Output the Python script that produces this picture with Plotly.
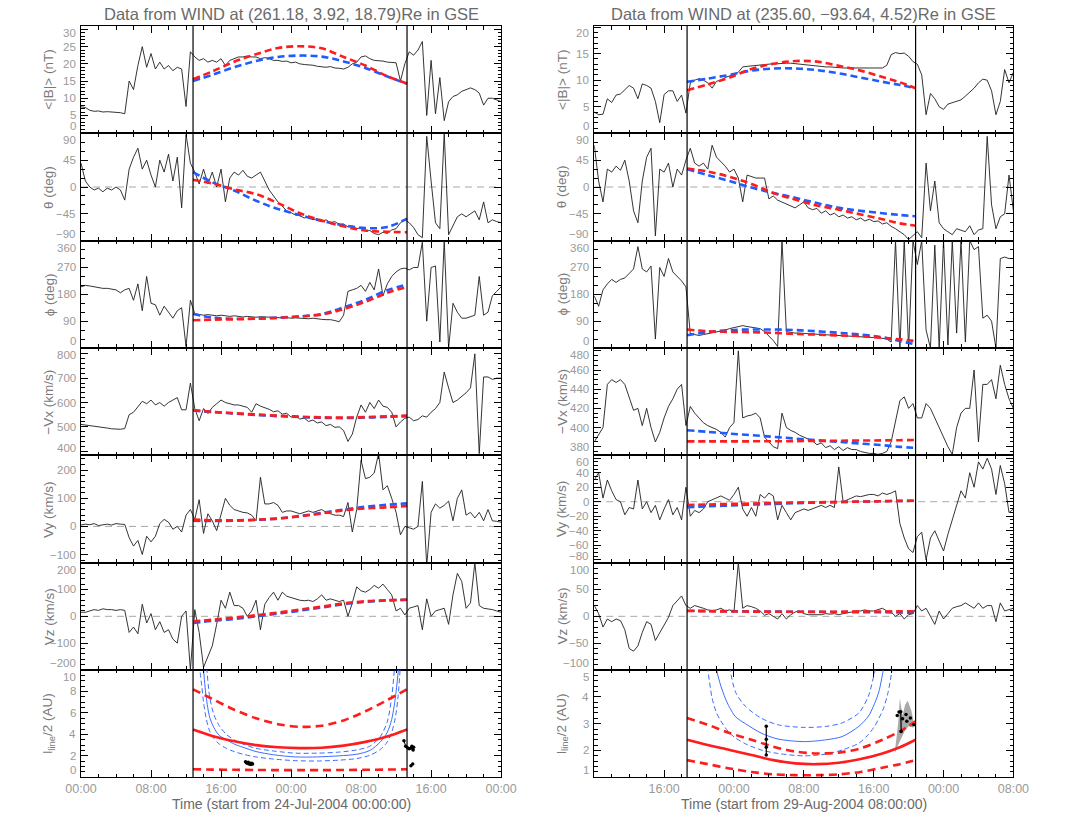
import plotly.graph_objects as go

W, H = 1075, 818
FONT = "Liberation Sans"

# hours since the start of each window, 30-min cadence
t_obs = [0.5 * i for i in range(97)]

# ---------------- WIND, window starting 24-Jul-2004 00:00 ----------------
L_B = [7.5, 7.3, 6.5, 6.2, 6.3, 6.0, 6.1, 6.0, 6.1, 5.8,
       5.5, 15.0, 12.5, 19.5, 25.0, 19.0, 23.0, 18.5, 20.5, 18.5,
       19.5, 18.0, 19.0, 18.5, 7.6, 23.5, 22.0, 21.0, 21.5, 20.5,
       21.0, 20.5, 21.5, 19.5, 21.0, 21.5, 22.0, 22.0, 22.3, 22.0,
       22.0, 21.5, 21.8, 21.5, 21.0, 21.0, 20.7, 20.8, 20.3, 20.5,
       20.0, 19.8, 19.8, 19.6, 19.3, 19.2, 19.0, 19.2, 18.8, 18.7,
       18.5, 19.0, 20.0, 20.5, 22.0, 22.3, 21.5, 21.0, 21.0, 20.8,
       20.5, 20.5, 20.3, 15.0, 20.0, 23.5, 22.5, 24.0, 26.5, 5.0,
       21.0, 5.5, 16.0, 3.5, 9.0, 10.5, 11.0, 12.0, 12.5, 13.0,
       12.5, 11.5, 8.0, 10.0, 10.0, 9.5, 9.0]
L_TH = [40, 10, 0, -5, -2, -8, -2, -5, 0, -5,
        -22, 30, 50, 65, 30, 45, 20, 0, 45, 25,
        55, 10, 50, -35, 88, 40, 25, 5, 30, 5,
        25, 0, 30, -25, 15, 25, 20, 28, 18, 15,
        20, 25, 10, -5, -15, -25, -32, -40, -43, -47,
        -48, -52, -50, -55, -53, -58, -55, -60, -58, -63,
        -62, -67, -65, -70, -68, -74, -73, -78, -80, -76,
        -78, -72, -70, -60, -55, -60, -68, -80, -85, 85,
        10, -60, -70, 90, -80, -65, -50, -45, -50, -45,
        -40, -55, -25, -60, -55, -58, -60]
L_PH = [205, 210, 208, 205, 203, 200, 200, 197, 195, 185,
        195, 200, 160, 215, 125, 240, 150, 145, 110, 140,
        120, 100, 125, 135, 5, 160, 115, 112, 110, 112,
        110, 108, 110, 108, 106, 108, 105, 104, 106, 104,
        103, 105, 104, 103, 102, 103, 101, 102, 100, 101,
        100, 99, 98, 100, 97, 96, 95, 95, 92, 88,
        110, 190, 195, 200, 210, 190, 220, 195, 265, 175,
        215, 240, 255, 265, 268, 262, 270, 270, 355, 90,
        270, 275, 20, 360, 0, 150, 120, 100, 100, 105,
        110, 240, 110, 120, 175, 190, 205]
L_VX = [510, 508, 505, 503, 500, 498, 495, 492, 490, 490,
        493, 550, 560, 585, 605, 595, 610, 590, 600, 585,
        600, 610, 620, 570, 570, 680, 575, 525, 575, 555,
        580, 595, 610, 600, 595, 590, 590, 585, 580, 560,
        595, 585, 580, 572, 562, 566, 552, 556, 540, 546,
        532, 536, 522, 528, 516, 520, 505, 510, 498, 500,
        485, 440, 470, 540, 590, 560, 600, 575, 610, 585,
        580, 560, 500, 520, 535, 540, 525, 530, 545, 540,
        560, 575, 600, 725, 660, 600, 610, 625, 640, 660,
        800, 390, 705, 705, 695, 700, 700]
L_VY = [5, 8, 6, 10, 3, 5, 8, 5, 10, 8,
        7, -40, -70, -50, -100, -35, -55, -35, 10, 25,
        15, -10, 0, -20, 40, 60, 25, 95, -25, 45,
        20, -15, 45, 100, 75, 60, 55, 50, 48, 40,
        20, 175, 80, 80, 85, 75, 50, 55, 55, 50,
        45, 50, 55, 50, 55, 60, 50, 45, 40, 40,
        35, 85, -20, 60, 235, 170, 175, 190, 260, 130,
        145, 100, 50, -30, 0, -5, -10, 0, 160, -140,
        50, 80, 65, 75, 90, 20, 100, 130, 40, 50,
        30, 50, 20, 60, 20, 18, 15]
L_VZ = [15, 15, 20, 25, 22, 28, 25, 25, 22, 25,
        22, -60, -40, -65, 45, -25, 10, -50, -20, -60,
        -50, -85, -100, 0, 20, -200, 25, -60, -190, -150,
        -110, -30, 60, 30, 90, 40, 40, 30, 0, 20,
        60, -50, 45, 70, 90, 60, 90, 75, 70, 65,
        60, 58, 60, 55, 65, 80, 60, 65, 60, 55,
        60, 0, 50, 110, 95, 90, 100, 115, 105, 120,
        100, 80, 20, 30, 5, 30, 35, 40, -50, 65,
        0, 20, 25, 30, -30, 80, 160, 130, 30, 50,
        200, 40, 30, 28, 25, 20, 15]

# model fits inside the magnetic cloud (red / blue)
tL_fit = [12.8, 15, 17.5, 20, 22.5, 25, 27.5, 30, 32.5, 35, 37.25]
L_B_red = [15.5, 17.8, 20.6, 22.8, 24.6, 25.1, 24.5, 22.0, 19.5, 16.4, 14.3]
L_B_blue = [15.0, 16.8, 19.0, 20.8, 22.0, 22.4, 22.1, 20.7, 18.8, 16.3, 14.2]
L_TH_red = [12, 6, -4, -12, -27, -44, -56, -66, -73, -75, -76]
L_TH_blue = [25, 8, -6, -23, -37, -47, -57, -64, -69, -67, -53]
L_PH_red = [93, 95, 96, 98, 101, 106, 112, 130, 155, 185, 205]
L_PH_blue = [114, 102, 98, 99, 102, 106, 114, 136, 162, 194, 213]
L_VX_red = [569, 562, 556, 551, 546, 542, 539, 538, 540, 543, 546]
L_VX_blue = [567, 561, 555, 549, 544, 540, 537, 536, 538, 541, 544]
L_VY_red = [24, 22, 22, 24, 28, 36, 46, 57, 64, 68, 73]
L_VY_blue = [20, 19, 20, 23, 28, 37, 48, 60, 70, 77, 82]
L_VZ_red = [-19, -13, -5, 4, 14, 25, 36, 48, 56, 60, 62]
L_VZ_blue = [-25, -17, -10, 0, 10, 21, 33, 45, 54, 59, 62]
L_L_red = [4.45, 3.85, 3.35, 3.0, 2.8, 2.72, 2.75, 2.95, 3.3, 3.8, 4.45]
L_L_red_hi = [8.2, 7.3, 6.3, 5.5, 4.95, 4.7, 4.8, 5.3, 6.15, 7.2, 8.2]
L_L_red_lo = [0.75, 0.72, 0.7, 0.68, 0.67, 0.67, 0.67, 0.68, 0.7, 0.72, 0.75]

tL_blue = [13.5, 13.8, 14.0, 14.3, 14.7, 15.2, 15.8, 16.6, 17.5, 18.5, 20, 22,
           24.5, 27, 29.5, 31.5, 33, 34.2, 35, 35.5, 35.9, 36.2, 36.5, 36.8]
L_L_blue = [20, 12, 10, 7.5, 5.6, 4.6, 3.9, 3.5, 3.1, 2.8, 2.4, 2.1,
            1.9, 1.9, 2.0, 2.15, 2.5, 3.3, 4.2, 5.4, 7.3, 9.5, 12, 20]
L_L_blue_hi = [40, 20, 16, 11, 7.5, 5.8, 4.8, 4.0, 3.5, 3.1, 2.7, 2.45,
               2.25, 2.25, 2.35, 2.55, 2.9, 3.8, 5.2, 7.5, 11, 15, 20, 40]
L_L_blue_lo = [10.5, 8.5, 7.0, 5.5, 4.3, 3.6, 3.1, 2.7, 2.4, 2.15, 1.9, 1.7,
               1.55, 1.52, 1.6, 1.75, 2.05, 2.6, 3.3, 4.2, 5.5, 7.3, 10.5, 14]

L_pts_t = [18.8, 18.9, 19.0, 19.1, 19.2, 19.3, 19.4, 19.5, 19.6]
L_pts_l = [1.45, 1.35, 1.3, 1.4, 1.25, 1.3, 1.2, 1.3, 1.25]
L_pts2_t = [36.9, 37.1, 37.3, 37.5, 37.7, 37.8, 37.95, 38.0]
L_pts2_l = [3.4, 2.9, 2.75, 2.65, 2.7, 2.9, 2.55, 2.8]
L_pts3_t = [37.7, 37.9]
L_pts3_l = [1.08, 1.23]

EVENT_L = [12.8, 37.25]

# ---------------- WIND, window starting 29-Aug-2004 08:00 ----------------
R_B = [4.0, 3.5, 3.6, 6.5, 5.8, 7.2, 7.4, 8.3, 9.0, 8.5,
       6.5, 9.3, 9.0, 8.5, 6.0, 2.0, 7.3, 8.0, 8.0, 6.0,
       7.2, 3.8, 9.5, 10.0, 10.3, 10.0, 9.5, 8.5, 9.8, 10.0,
       10.5, 10.8, 11.0, 11.5, 12.5, 12.6, 12.7, 12.8, 12.9, 13.0,
       13.0, 13.1, 13.1, 13.2, 13.2, 13.2, 13.1, 13.0, 13.0, 12.9,
       12.8, 12.7, 12.6, 12.5, 12.5, 12.4, 12.4, 12.3, 12.3, 12.3,
       12.3, 12.2, 12.2, 12.2, 12.3, 12.3, 12.3, 12.8, 14.8, 15.2,
       15.0, 15.1, 14.5, 13.5, 13.0, 11.0, 3.5, 7.5, 6.5, 5.0,
       4.5, 5.5, 5.8, 6.0, 6.3, 7.0, 7.8, 8.5, 9.5, 10.2,
       10.0, 8.0, 3.5, 6.0, 12.0, 9.5, 11.5]
R_TH = [70, 10, -25, 30, 25, 35, 28, 45, 10, -40,
        -60, 10, 50, 65, -82, 30, 25, 40, 0, 30,
        20, 45, 65, 40, 35, 40, 30, 70, 50, 42,
        35, 25, 30, 15, -25, 20, 18, 15, 15, 15,
        -20, -15, -22, -25, -28, -32, -35, -30, -25, -35,
        -38, -36, -44, -40, -47, -44, -50, -47, -52, -50,
        -55, -52, -57, -54, -58, -57, -62, -60, -66, -70,
        -75, -80, -88, -82, -75, -85, 40, -40, 10, -60,
        -70, -75, -80, -70, -72, -75, -65, -80, -72, -70,
        85, -30, -70, -50, -45, 20, -40]
R_PH = [175, 140, 195, 215, 230, 220, 230, 235, 250, 265,
        340, 265, 255, 275, 30, 270, 240, 300, 255, 240,
        225, 205, 48, 45, 42, 45, 48, 50, 52, 55,
        60, 65, 68, 72, 75, 72, 70, 68, 65, 55,
        40, 25, 5, 360, 55, 52, 50, 50, 48, 48,
        47, 46, 45, 45, 43, 42, 42, 40, 40, 39,
        38, 38, 37, 36, 35, 35, 33, 30, 20, 360,
        0, 360, 0, 360, 280, 360, 60, 0, 345, 0,
        360, 10, 360, 50, 360, 20, 360, 330, 340, 100,
        110, 90, 0, 300, 305, 300, 300]
R_VX = [385, 393, 400, 445, 450, 447, 450, 445, 432, 418,
        420, 402, 420, 400, 385, 395, 410, 422, 430, 440,
        445, 402, 422, 415, 410, 405, 402, 400, 398, 395,
        390, 400, 405, 480, 410, 412, 413, 415, 410, 390,
        385, 380, 378, 415, 400, 397, 395, 392, 390, 388,
        386, 382, 384, 379, 381, 377, 380, 376, 379, 377,
        377, 375, 374, 373, 373, 372, 373, 375, 385, 405,
        428, 432, 420, 425, 410, 410, 425, 420, 410, 400,
        390, 380, 372, 400, 415, 420, 420, 460, 385, 445,
        445, 450, 430, 465, 445, 430, 420]
R_VY = [30, 40, 5, 30, 15, 3, 0, -18, -8, -10,
        30, -10, 0, -15, -5, -25, -10, 3, -18, -8,
        -25, 20, -20, -12, -15, -10, 0, 3, 5, 8,
        5, 2, 10, 20, -10, -20, -8, -20, 10, 5,
        12, 8, -25, -5, -15, -25, -15, -12, -10, -12,
        -10, -8, -5, -8, -5, -8, 48, 0, 3, 5,
        8, 7, 9, 10, 10, 8, 12, 10, 12, 15,
        -30, -50, -65, -70, -48, -42, -80, -50, -40, -55,
        -68, -45, -25, -5, 15, 5, 40, 20, 55, 45,
        60, 45, 10, 50, 25, -15, -10]
R_VZ = [20, 5, -20, -5, -10, -5, -8, -25, -60, -65,
        -55, -30, -10, -15, -45, -30, -15, -2, 20, 30,
        38, 20, 15, 20, 18, 15, 12, 10, 12, 15,
        10, 12, 8, 100, 15, 20, 18, 15, 10, 2,
        5, 0, -5, 5, -5, 3, 8, 10, 5, 3,
        3, 2, 3, 5, 4, 5, 3, 5, 6, 8,
        10, 10, 12, 10, 10, 12, 15, 10, 8, 0,
        5, -5, 3, 5, 20, 10, 15, 0, -15, 10,
        -5, 5, 15, 18, 20, 25, 20, 15, 25, 15,
        20, 20, -10, 25, 10, 12, 15]

tR_fit = [10.63, 13, 15.5, 18, 20.5, 23, 25.5, 28, 30.5, 33, 35, 36.8]
R_B_red = [8.1, 9.2, 10.5, 12.1, 13.1, 13.6, 13.5, 12.7, 11.8, 10.6, 9.6, 8.5]
R_B_blue = [9.7, 10.3, 11.0, 11.8, 12.2, 12.2, 11.9, 11.3, 10.5, 9.7, 9.1, 8.5]
R_TH_red = [31, 26, 17, 5, -10, -21, -31, -38, -46, -54, -61, -65]
R_TH_blue = [30, 20, 10, -1, -10, -18, -27, -35, -40, -44, -47, -49]
R_PH_red = [62, 56, 54, 53, 51, 47, 45, 42, 40, 34, 29, 23]
R_PH_blue = [43, 53, 60, 62, 62, 60, 56, 51, 45, 36, 23, 12]
R_VX_red = [385.5, 385.5, 385.5, 385.6, 385.7, 385.8, 386, 386.2, 386.4, 386.6, 386.8, 387]
R_VX_blue = [397.2, 395.5, 393.7, 392, 390.3, 388.5, 386.8, 385, 383.3, 381.6, 379.8, 378.8]
R_VY_red = [-4.5, -3.8, -3, -2.5, -1.8, -1.2, -0.8, -0.3, 0.2, 0.7, 1.1, 1.3]
R_VY_blue = [-7.5, -6.3, -5.2, -4, -3, -2, -1.2, -0.5, 0.2, 0.8, 1.2, 1.4]
R_VZ_red = [10, 9.5, 9, 8.8, 8.6, 8.5, 8.5, 8.6, 8.8, 9, 9.3, 9.5]
R_VZ_blue = [10.5, 10, 9.6, 9.2, 8.8, 8.5, 8.2, 8, 7.8, 7.5, 7, 6.5]
R_L_red = [2.4, 2.2, 2.02, 1.83, 1.64, 1.52, 1.49, 1.54, 1.68, 1.89, 2.12, 2.4]
R_L_red_hi = [3.21, 2.96, 2.65, 2.4, 2.14, 1.96, 1.89, 1.92, 2.08, 2.4, 2.71, 3.09]
R_L_red_lo = [1.64, 1.49, 1.33, 1.2, 1.11, 1.08, 1.08, 1.11, 1.2, 1.36, 1.49, 1.64]

tR_blue = [12.5, 13.0, 13.5, 14.0, 14.5, 15.0, 15.5, 16.2, 17.3, 19.1, 21,
           24, 26.6, 28.4, 30.3, 31.4, 32.1, 32.6, 33.1, 33.6, 34.1, 34.6]
R_L_blue = [9, 7, 5.8, 5.0, 4.4, 3.95, 3.6, 3.25, 3.0, 2.65, 2.43,
            2.33, 2.4, 2.52, 2.9, 3.28, 3.75, 4.2, 5.0, 6.0, 7.5, 9]
R_L_blue_hi = [14, 12, 10, 8.5, 7, 6, 5.1, 4.16, 3.65, 3.21, 2.96,
               2.86, 2.9, 3.03, 3.4, 4.03, 4.9, 5.5, 6.5, 8, 10, 12]
R_L_blue_lo = [6.0, 5.0, 3.95, 3.4, 3.1, 2.85, 2.65, 2.46, 2.25, 2.02, 1.89,
               1.8, 1.87, 2.02, 2.27, 2.6, 2.9, 3.2, 3.55, 4.1, 5.0, 6.5]

R_bar_t = [19.7, 19.7, 19.7, 19.7]
R_bar_l = [2.9, 2.42, 2.12, 1.83]
R_pts_t = [34.7, 34.9, 35.1, 35.15, 35.3, 35.7, 35.8, 36.2, 36.6]
R_pts_l = [3.3, 3.43, 3.44, 2.71, 3.18, 3.34, 3.09, 3.21, 2.96]
R_band_t = [34.4, 34.8, 35.0, 35.3, 35.6, 35.9, 36.3, 36.6, 36.5, 36.0, 35.6, 35.2, 34.8]
R_band_l = [1.9, 3.0, 3.95, 3.3, 3.7, 3.85, 3.5, 3.05, 2.85, 2.9, 2.75, 2.5, 2.2]

EVENT_R = [10.63, 36.8]

# x tick labels
L_xticks = [0, 8, 16, 24, 32, 40, 48]
L_xlabels = ["00:00", "08:00", "16:00", "00:00", "08:00", "16:00", "00:00"]
R_xticks = [8, 16, 24, 32, 40, 48]
R_xlabels = ["16:00", "00:00", "08:00", "16:00", "00:00", "08:00"]

TITLE_L = "Data from WIND at (261.18, 3.92, 18.79)Re in GSE"
TITLE_R = "Data from WIND at (235.60, \u221293.64, 4.52)Re in GSE"
XTITLE_L = "Time (start from 24-Jul-2004 00:00:00)"
XTITLE_R = "Time (start from 29-Aug-2004 08:00:00)"

YTITLES = ["&lt;|B|&gt; (nT)", "\u03b8 (deg)", "\u03d5 (deg)", "\u2212Vx (km/s)",
           "Vy (km/s)", "Vz (km/s)", "l<sub>line</sub>/2 (AU)"]

# panel definitions: data, fits, y-range, major ticks, minor step, zero line
left_panels = [
    dict(y=L_B, red=L_B_red, blue=L_B_blue, rng=[-0.2, 31], ticks=[0, 5, 10, 15, 20, 25, 30], minor=1, zero=False),
    dict(y=L_TH, red=L_TH_red, blue=L_TH_blue, rng=[-90, 90], ticks=[-90, -45, 0, 45, 90], minor=15, zero=True),
    dict(y=L_PH, red=L_PH_red, blue=L_PH_blue, rng=[0, 360], ticks=[0, 90, 180, 270, 360], minor=30, zero=False),
    dict(y=L_VX, red=L_VX_red, blue=L_VX_blue, rng=[383, 824], ticks=[400, 500, 600, 700, 800], minor=20, zero=False),
    dict(y=L_VY, red=L_VY_red, blue=L_VY_blue, rng=[-129, 253], ticks=[-100, 0, 100, 200], minor=20, zero=True),
    dict(y=L_VZ, red=L_VZ_red, blue=L_VZ_blue, rng=[-200, 200], ticks=[-200, -100, 0, 100, 200], minor=20, zero=True),
    dict(y=None, rng=[0, 10], ticks=[0, 2, 4, 6, 8, 10], minor=0.5, zero=False),
]
right_panels = [
    dict(y=R_B, red=R_B_red, blue=R_B_blue, rng=[0, 20.2], ticks=[0, 5, 10, 15, 20], minor=1, zero=False),
    dict(y=R_TH, red=R_TH_red, blue=R_TH_blue, rng=[-90, 90], ticks=[-90, -45, 0, 45, 90], minor=15, zero=True),
    dict(y=R_PH, red=R_PH_red, blue=R_PH_blue, rng=[0, 360], ticks=[0, 90, 180, 270, 360], minor=30, zero=False),
    dict(y=R_VX, red=R_VX_red, blue=R_VX_blue, rng=[371, 483], ticks=[380, 400, 420, 440, 460, 480], minor=5, zero=False),
    dict(y=R_VY, red=R_VY_red, blue=R_VY_blue, rng=[-84, 64], ticks=[-80, -60, -40, -20, 0, 20, 40, 60], minor=5, zero=True),
    dict(y=R_VZ, red=R_VZ_red, blue=R_VZ_blue, rng=[-100, 100], ticks=[-100, -50, 0, 50, 100], minor=10, zero=True),
    dict(y=None, rng=[1, 5], ticks=[1, 2, 3, 4, 5], minor=0.2, zero=False),
]

COLS = [
    dict(panels=left_panels, xpx=(67, 500), tfit=tL_fit, events=EVENT_L,
         xticks=L_xticks, xlabels=L_xlabels, title=TITLE_L, xtitle=XTITLE_L),
    dict(panels=right_panels, xpx=(596, 1028), tfit=tR_fit, events=EVENT_R,
         xticks=R_xticks, xlabels=R_xlabels, title=TITLE_R, xtitle=XTITLE_R),
]

TOP_PX, PANEL_PX = 26.0, 107.33
EDGE_PAD = 7.0          # end tick labels are kept this far inside the panel
BLACK = "#1e1e1e"
RED = "#ff1c1c"
BLUE = "#1f5cff"
THIN_BLUE = "#3a6cff"
LABEL_GREY = "#9a9a9a"
TITLE_GREY = "#7a7a7a"


def ydom(row):
    top = TOP_PX + row * PANEL_PX
    return [1 - (top + PANEL_PX) / H, 1 - top / H]


def fmt(v):
    return ("%g" % v).replace("-", "\u2212")


fig = go.Figure()
shapes, annotations = [], []
layout_axes = {}

for c, col in enumerate(COLS):
    x0px, x1px = col["xpx"]
    xdom = [x0px / W, x1px / W]
    for r, p in enumerate(col["panels"]):
        n = c * 7 + r + 1
        xa = "x" if n == 1 else f"x{n}"
        ya = "y" if n == 1 else f"y{n}"
        xkey = "xaxis" if n == 1 else f"xaxis{n}"
        ykey = "yaxis" if n == 1 else f"yaxis{n}"
        bottom = r == 6
        lo, hi = p["rng"]

        layout_axes[xkey] = dict(
            domain=xdom, range=[0, 48], anchor=ya, showgrid=False, zeroline=False,
            showline=True, linecolor="black", linewidth=1, mirror="allticks",
            ticks="inside", ticklen=7, tickcolor="black", tickwidth=1,
            tickmode="array", tickvals=col["xticks"], ticktext=col["xlabels"],
            showticklabels=bottom,
            tickfont=dict(family=FONT, size=12.5, color=LABEL_GREY),
            minor=dict(tickmode="linear", tick0=0, dtick=2, ticks="inside",
                       ticklen=3.5, tickcolor="black", tickwidth=1, showgrid=False),
            fixedrange=True,
        )
        layout_axes[ykey] = dict(
            domain=ydom(r), range=[lo, hi], anchor=xa, showgrid=False, zeroline=False,
            showline=True, linecolor="black", linewidth=1, mirror="allticks",
            ticks="inside", ticklen=7, tickcolor="black", tickwidth=1,
            tickmode="linear", tick0=p["ticks"][0], dtick=p["ticks"][1] - p["ticks"][0],
            showticklabels=False,
            minor=dict(tickmode="linear", tick0=p["ticks"][0], dtick=p["minor"], ticks="inside",
                       ticklen=3.5, tickcolor="black", tickwidth=1, showgrid=False),
            fixedrange=True,
        )

        # tick labels, nudged inward at panel edges
        for v in p["ticks"]:
            pos_top = (hi - v) / (hi - lo) * PANEL_PX
            pos_bot = PANEL_PX - pos_top
            shift = 0
            if pos_top < EDGE_PAD:
                shift = -(EDGE_PAD - pos_top)
            elif pos_bot < EDGE_PAD:
                shift = EDGE_PAD - pos_bot
            annotations.append(dict(
                x=(x0px - 3) / W, xref="paper", xanchor="right", y=v, yref=ya,
                yanchor="middle", yshift=shift, text=fmt(v), showarrow=False,
                font=dict(family=FONT, size=11.5, color=LABEL_GREY)))

        # axis title
        d = ydom(r)
        annotations.append(dict(
            x=(x0px - 33) / W, xref="paper", xanchor="center", y=(d[0] + d[1]) / 2,
            yref="paper", yanchor="middle", text=YTITLES[r], textangle=-90,
            showarrow=False, font=dict(family=FONT, size=13.5, color=TITLE_GREY)))

        if p["zero"]:
            shapes.append(dict(type="line", xref=xa, yref=ya, x0=0, x1=48, y0=0, y1=0,
                               line=dict(color="#a8a8a8", width=1, dash="7px,5px"),
                               layer="below"))

        if p["y"] is not None:
            fig.add_trace(go.Scatter(x=t_obs, y=p["y"], mode="lines", xaxis=xa, yaxis=ya,
                                     line=dict(color=BLACK, width=0.9), showlegend=False,
                                     hoverinfo="skip"))
            fig.add_trace(go.Scatter(x=col["tfit"], y=p["blue"], mode="lines", xaxis=xa, yaxis=ya,
                                     line=dict(color=BLUE, width=2.6, dash="7px,4px", shape="spline"),
                                     showlegend=False, hoverinfo="skip"))
            fig.add_trace(go.Scatter(x=col["tfit"], y=p["red"], mode="lines", xaxis=xa, yaxis=ya,
                                     line=dict(color=RED, width=2.6, dash="7px,4px", shape="spline"),
                                     showlegend=False, hoverinfo="skip"))

    # event boundaries across the whole column
    xa_b = "x7" if c == 0 else "x14"
    for te in col["events"]:
        shapes.append(dict(type="line", xref=xa_b, yref="paper", x0=te, x1=te,
                           y0=ydom(6)[0], y1=ydom(0)[1], line=dict(color="black", width=1.2)))

    annotations.append(dict(x=(x0px + x1px) / 2 / W, xref="paper", y=1 - 14 / H, yref="paper",
                            text=col["title"], showarrow=False, xanchor="center", yanchor="middle",
                            font=dict(family=FONT, size=16.5, color="#6a6a6a")))
    annotations.append(dict(x=(x0px + x1px) / 2 / W, xref="paper", y=1 - 804 / H, yref="paper",
                            text=col["xtitle"], showarrow=False, xanchor="center", yanchor="middle",
                            font=dict(family=FONT, size=14, color="#6a6a6a")))


def line(ax_n, x, y, color, width, dash=None, shape="spline", mode="lines", marker=None):
    ln = dict(color=color, width=width, shape=shape)
    if shape == "spline":
        ln["smoothing"] = 0.8
    if dash:
        ln["dash"] = dash
    fig.add_trace(go.Scatter(x=x, y=y, mode=mode, xaxis=f"x{ax_n}", yaxis=f"y{ax_n}", line=ln,
                             marker=marker, showlegend=False, hoverinfo="skip"))


# ---- length panels (row 7) ----
# left
line(7, tL_blue, L_L_blue, THIN_BLUE, 1.0)
line(7, tL_blue, L_L_blue_hi, THIN_BLUE, 1.0, dash="5px,3px")
line(7, tL_blue, L_L_blue_lo, THIN_BLUE, 1.0, dash="5px,3px")
line(7, tL_fit, L_L_red, RED, 2.6)
line(7, tL_fit, L_L_red_hi, RED, 2.6, dash="8px,5px")
line(7, tL_fit, L_L_red_lo, RED, 2.6, dash="8px,5px")
dot = dict(color="black", size=3.5)
line(7, L_pts_t, L_pts_l, "black", 1, shape="linear", mode="lines+markers", marker=dot)
line(7, L_pts2_t, L_pts2_l, "black", 1, shape="linear", mode="lines+markers", marker=dot)
line(7, L_pts3_t, L_pts3_l, "black", 1, shape="linear", mode="lines+markers", marker=dot)

# right
fig.add_trace(go.Scatter(x=R_band_t, y=R_band_l, mode="lines", fill="toself",
                         fillcolor="#a9a9a9", line=dict(width=0, color="#a9a9a9"),
                         xaxis="x14", yaxis="y14", showlegend=False, hoverinfo="skip"))
line(14, tR_blue, R_L_blue, THIN_BLUE, 1.0)
line(14, tR_blue, R_L_blue_hi, THIN_BLUE, 1.0, dash="5px,3px")
line(14, tR_blue, R_L_blue_lo, THIN_BLUE, 1.0, dash="5px,3px")
line(14, tR_fit, R_L_red, RED, 2.6)
line(14, tR_fit, R_L_red_hi, RED, 2.6, dash="8px,5px")
line(14, tR_fit, R_L_red_lo, RED, 2.6, dash="8px,5px")
line(14, R_bar_t, R_bar_l, "black", 1.2, shape="linear", mode="lines+markers", marker=dot)
line(14, R_pts_t, R_pts_l, "black", 1, shape="linear", mode="markers", marker=dot)
line(14, [R_pts_t[2], R_pts_t[3]], [R_pts_l[2], R_pts_l[3]], "black", 1.2, shape="linear")

fig.update_layout(
    width=W, height=H, autosize=False,
    margin=dict(l=0, r=0, t=0, b=0),
    paper_bgcolor="white", plot_bgcolor="white",
    font=dict(family=FONT, size=12, color=LABEL_GREY),
    shapes=shapes, annotations=annotations, showlegend=False,
    **layout_axes,
)

fig.write_html("out.html")
